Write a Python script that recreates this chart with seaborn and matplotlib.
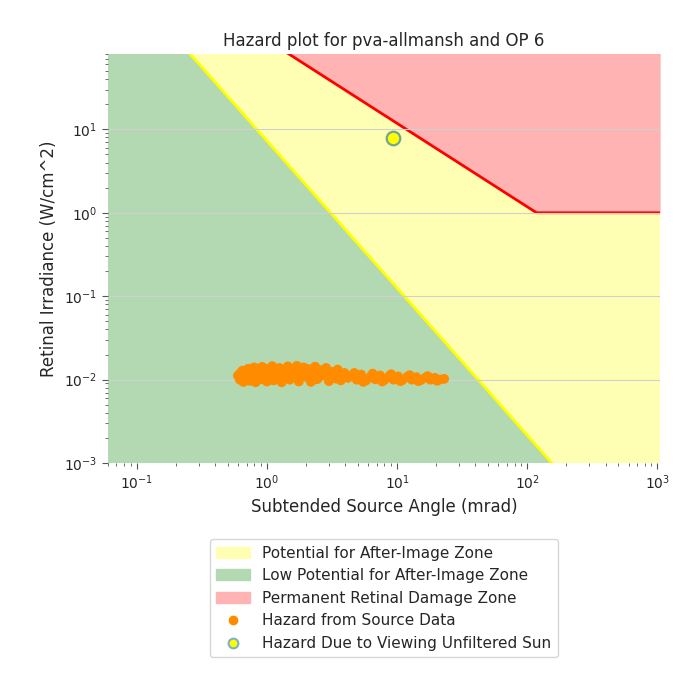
import numpy as np
import pandas as pd
import seaborn as sns
import matplotlib.pyplot as plt
from matplotlib.patches import Patch
from matplotlib.lines import Line2D

# threshold lines (extended past the axes edges)
afterimage_angle = [0.06, 1050.0]
afterimage_irr = [1050.0, 3.4e-5]
burn_angle = [0.06, 118.0, 1050.0]
burn_irr = [1970.0, 1.0, 1.0]

# hazard from source data (mrad, W/cm^2)
src_angle = [0.60, 0.62, 0.65, 0.66, 0.68, 0.70, 0.72, 0.74, 0.75, 0.78, 0.80, 0.82,
             0.85, 0.87, 0.90, 0.92, 0.95, 0.98, 1.00, 1.03, 1.06, 1.10, 1.13, 1.17,
             1.20, 1.25, 1.30, 1.34, 1.40, 1.45, 1.50, 1.56, 1.62, 1.70, 1.76, 1.85,
             1.92, 2.00, 2.08, 2.18, 2.25, 2.35, 2.45, 2.58, 2.70, 2.85, 3.00, 3.15,
             3.30, 3.50, 3.70, 3.95, 4.20,
             0.63, 0.71, 0.79, 0.88, 0.96, 1.08, 1.22, 1.36, 1.53, 1.68, 1.88, 2.12,
             2.40, 2.65, 2.95, 3.40, 3.85,
             4.50, 4.90, 5.30, 5.80, 6.30, 6.80, 7.40, 8.00, 8.70, 9.40, 10.2, 11.0,
             12.0, 13.0, 14.1, 15.3, 16.6, 18.0, 19.5, 21.2, 23.0,
             4.70, 5.50, 6.50, 7.70, 9.00, 10.6, 12.5, 14.6, 17.2, 20.3]
src_irr = [0.0112, 0.0100, 0.0128, 0.0094, 0.0118, 0.0105, 0.0135, 0.0097, 0.0122, 0.0110,
           0.0140, 0.0093, 0.0116, 0.0130, 0.0101, 0.0142, 0.0109, 0.0124, 0.0095, 0.0133,
           0.0113, 0.0145, 0.0098, 0.0120, 0.0107, 0.0138, 0.0093, 0.0126, 0.0114, 0.0144,
           0.0100, 0.0131, 0.0118, 0.0146, 0.0095, 0.0125, 0.0140, 0.0108, 0.0134, 0.0094,
           0.0120, 0.0143, 0.0102, 0.0130, 0.0112, 0.0138, 0.0096, 0.0124, 0.0108, 0.0132,
           0.0098, 0.0120, 0.0105,
           0.0121, 0.0098, 0.0129, 0.0104, 0.0136, 0.0100, 0.0127, 0.0104, 0.0135, 0.0106,
           0.0116, 0.0128, 0.0101, 0.0119, 0.0125, 0.0103, 0.0114,
           0.0112, 0.0100, 0.0115, 0.0098, 0.0110, 0.0101, 0.0112, 0.0099, 0.0110, 0.0100,
           0.0109, 0.0099, 0.0108, 0.0100, 0.0107, 0.0099, 0.0106, 0.0100, 0.0105, 0.0100,
           0.0102,
           0.0120, 0.0094, 0.0118, 0.0095, 0.0116, 0.0096, 0.0113, 0.0096, 0.0110, 0.0097]

# hazard due to viewing the unfiltered sun
sun_angle = [9.3]
sun_irr = [7.9]

yellow_c = "#ffffb3"
green_c = "#b3d9b3"
red_c = "#ffb3b3"

src = pd.DataFrame({"angle": src_angle, "irr": src_irr})
sun = pd.DataFrame({"angle": sun_angle, "irr": sun_irr})

sns.set_style("white")
plt.rcParams["font.family"] = ["DejaVu Sans"]

fig = plt.figure(figsize=(6.82, 6.75), dpi=100)
ax = fig.add_axes([0.158, 0.314, 0.81, 0.606])
ax.set_xscale("log")
ax.set_yscale("log")

# zones
ax.fill_between([0.01, 1e4], 1e-6, 1e5, color=yellow_c, zorder=0.6, linewidth=0)
ax.fill_between(afterimage_angle, 1e-6, afterimage_irr, color=green_c, zorder=0.7, linewidth=0)
ax.fill_between(burn_angle, burn_irr, 1e5, color=red_c, zorder=0.7, linewidth=0)

ax.yaxis.grid(True, color="#d0d0d0", linewidth=0.8, zorder=0.8)
ax.set_axisbelow(False)

sns.lineplot(x=afterimage_angle, y=afterimage_irr, color="yellow", linewidth=2,
             sort=False, estimator=None, ax=ax, zorder=2)
sns.lineplot(x=burn_angle, y=burn_irr, color="red", linewidth=2,
             sort=False, estimator=None, ax=ax, zorder=2)

sns.scatterplot(data=src, x="angle", y="irr", color="darkorange", s=50,
                edgecolor="none", ax=ax, zorder=3)
sns.scatterplot(data=sun, x="angle", y="irr", color="yellow", s=95,
                edgecolor="#74a592", linewidth=1.6, ax=ax, zorder=4)

ax.set_xlim(0.06, 1050)
ax.set_ylim(1e-3, 80)
for s in ax.spines.values():
    s.set_visible(False)
ax.tick_params(which="both", direction="out", left=True, bottom=True,
               color="#555555", labelsize=10)
ax.tick_params(which="major", length=4)
ax.tick_params(which="minor", length=2)

ax.set_title("Hazard plot for pva-allmansh and OP 6", fontsize=12)
ax.set_xlabel("Subtended Source Angle (mrad)", fontsize=12)
ax.set_ylabel("Retinal Irradiance (W/cm^2)", fontsize=12)

handles = [
    Patch(color=yellow_c, label="Potential for After-Image Zone"),
    Patch(color=green_c, label="Low Potential for After-Image Zone"),
    Patch(color=red_c, label="Permanent Retinal Damage Zone"),
    Line2D([], [], marker="o", linestyle="none", color="darkorange", markersize=6,
           label="Hazard from Source Data"),
    Line2D([], [], marker="o", linestyle="none", markerfacecolor="yellow",
           markeredgecolor="#7fb0c8", markeredgewidth=1.5, markersize=7,
           label="Hazard Due to Viewing Unfiltered Sun"),
]
ax.legend(handles=handles, loc="upper center", bbox_to_anchor=(0.5, -0.168),
          fontsize=11, frameon=True, labelspacing=0.5, handlelength=2.2)

fig.savefig("out.png", dpi=100)
